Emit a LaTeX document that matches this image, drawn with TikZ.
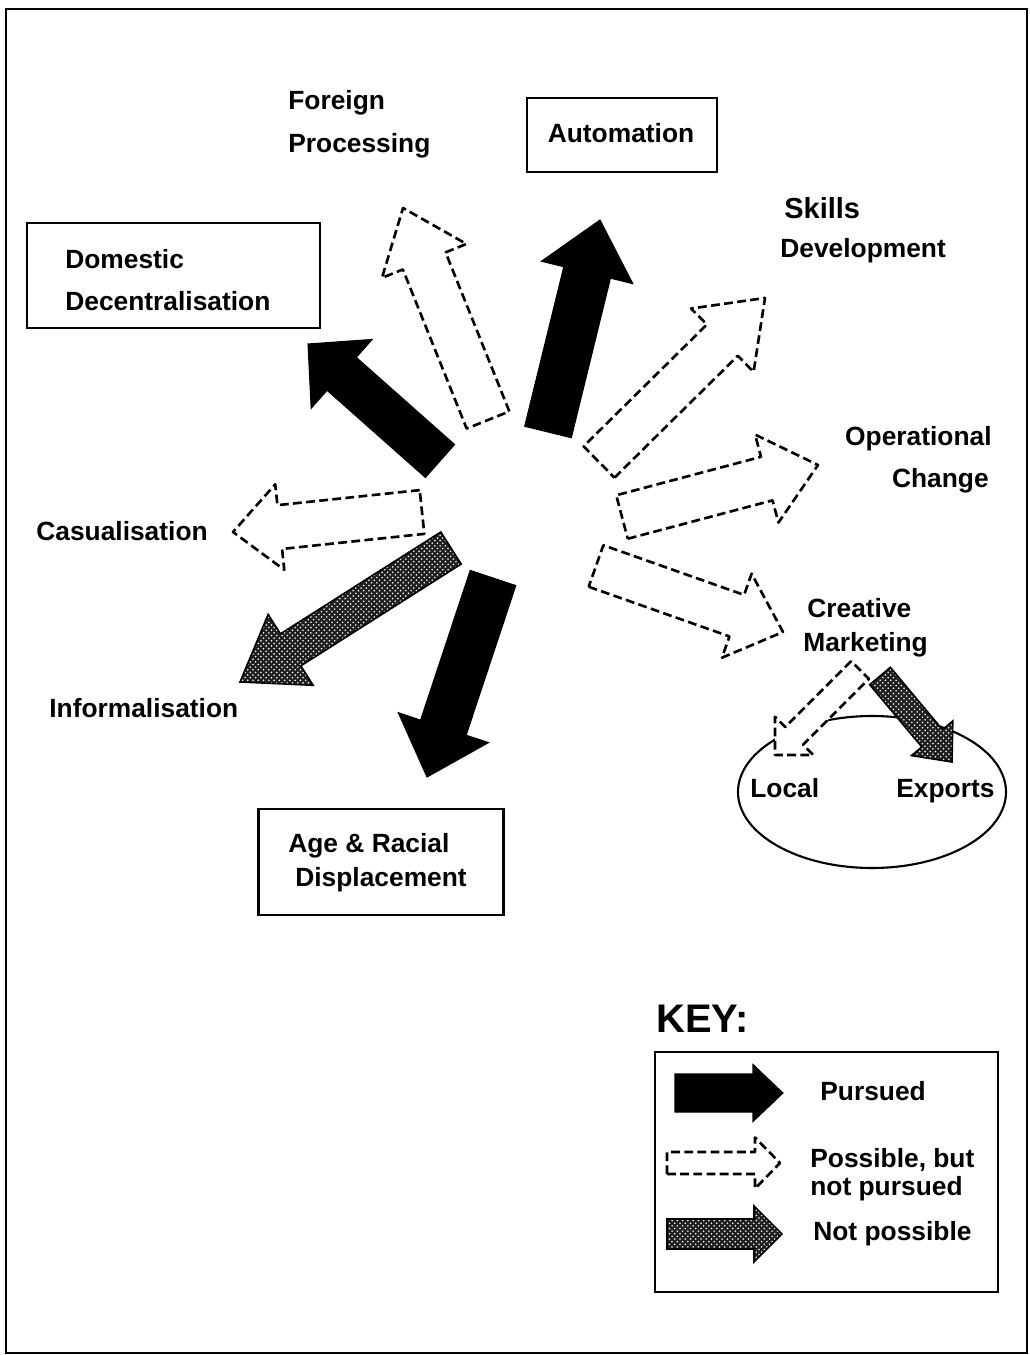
\documentclass[tikz,border=0pt]{standalone}
\usepackage{fontspec}
\setmainfont{Liberation Sans}
\usetikzlibrary{patterns}
\newcommand\barrow[8]{%
\pgfmathsetmacro\bdx{#4-#2}%
\pgfmathsetmacro\bdy{#5-#3}%
\pgfmathsetmacro\bL{veclen(\bdx,\bdy)}%
\pgfmathsetmacro\bux{\bdx/\bL}%
\pgfmathsetmacro\buy{\bdy/\bL}%
\pgfmathsetmacro\bbx{#2+\bux*(\bL-#8)}%
\pgfmathsetmacro\bby{#3+\buy*(\bL-#8)}%
\draw[#1] ({#2-\buy*#6/2},{#3+\bux*#6/2}) -- ({\bbx-\buy*#6/2},{\bby+\bux*#6/2}) -- ({\bbx-\buy*#7/2},{\bby+\bux*#7/2}) -- (#4,#5) -- ({\bbx+\buy*#7/2},{\bby-\bux*#7/2}) -- ({\bbx+\buy*#6/2},{\bby-\bux*#6/2}) -- ({#2+\buy*#6/2},{#3-\bux*#6/2}) -- cycle;}
\tikzset{
  lbl/.style={font=\fontsize{15}{18}\selectfont\bfseries, inner sep=0pt, anchor=base west},
  lblr/.style={lbl, anchor=base east},
  boxst/.style={draw, line width=1.4pt, inner sep=0pt},
  solidarrow/.style={fill=black, draw=black, line width=0.6pt, line join=miter},
  dasharrow/.style={draw=black, fill=white, line width=1.5pt, dash pattern=on 5pt off 2.5pt, line join=round},
  hatcharrow/.style={draw=black, line width=0.9pt, preaction={fill=black!88}, pattern=crosshatch dots, pattern color=white}
}
\begin{document}
\begin{tikzpicture}[x=0.02cm, y=-0.02cm]
\useasboundingbox (0,0) rectangle (1029,1355);
% outer frame
\draw[line width=1.6pt] (6,9) rectangle (1027,1353);

% boxes
\node[boxst, minimum width=3.8cm, minimum height=1.48cm] (autobox) at (622,135) {};
\node[boxst, minimum width=5.86cm, minimum height=2.1cm] (dombox) at (173.5,275.5) {};
\node[boxst, minimum width=4.9cm, minimum height=2.12cm] (agebox) at (381,862) {};
\node[boxst, minimum width=6.86cm, minimum height=4.8cm] (keybox) at (826.5,1172) {};
\draw[line width=1.2pt] (872,792) ellipse [x radius=134, y radius=76];

% texts
\node[lbl, anchor=base] (auto) at (621,142) {Automation};
\node[lbl] (dom1) at (65,268) {Domestic};
\node[lbl] (dom2) at (65,310) {Decentralisation};
\node[lbl] (for1) at (288,110) {Foreign};
\node[lbl] (for2) at (288,153) {Processing};
\node[lbl, font=\fontsize{16.5}{18}\selectfont\bfseries] (sk1) at (784,218) {Skills};
\node[lbl] (sk2) at (780,257) {Development};
\node[lblr] (op1) at (992,445) {Operational};
\node[lblr] (op2) at (989,487) {Change};
\node[lbl] (cr1) at (807,617) {Creative};
\node[lbl] (cr2) at (803,651) {Marketing};
\node[lbl] (cas) at (36,540) {Casualisation};
\node[lbl] (inf) at (49,717) {Informalisation};
\node[lbl] (age1) at (288,852) {Age \& Racial};
\node[lbl] (age2) at (295,886) {Displacement};
\node[lbl] (loc) at (750,797) {Local};
\node[lbl] (exp) at (896,797) {Exports};
\node[lbl, font=\fontsize{22.7}{26}\selectfont\bfseries] (key) at (656,1032) {KEY:};
\node[lbl] (k1) at (820,1100) {Pursued};
\node[lbl] (k2a) at (810,1167) {Possible, but};
\node[lbl] (k2b) at (810,1195) {not pursued};
\node[lbl] (k3) at (813,1240) {Not possible};

% arrows: style, tail x,y, tip x,y, shaft w, head w, head length
\barrow{solidarrow}{440}{461}{308}{344}{44}{92}{45}
\barrow{dasharrow}{488}{420}{403}{208}{46}{91}{57}
\barrow{solidarrow}{548}{432}{600}{220}{48}{94}{54}
\barrow{dasharrow}{599}{462}{765}{298}{44}{89}{60}
\barrow{dasharrow}{622}{517}{818}{465}{45}{91}{53}
\barrow{dasharrow}{596}{566}{783}{632}{44}{89}{49}
\barrow{dasharrow}{422}{512}{233}{532}{44}{86}{47}
\barrow{hatcharrow}{451}{548}{240}{682}{38}{84}{60}
\barrow{solidarrow}{493}{578}{427}{777}{48}{95}{52}
\barrow{dasharrow}{860}{670}{775}{755}{25}{54}{27}
\barrow{hatcharrow}{880}{676}{952}{762}{27}{54}{31}

% key arrows
\barrow{solidarrow}{675}{1093}{783}{1093}{38}{57}{30}
\barrow{dasharrow}{667}{1163}{780}{1163}{22}{51}{25}
\barrow{hatcharrow}{667}{1234}{782}{1234}{30}{56}{28}
\end{tikzpicture}
\end{document}
